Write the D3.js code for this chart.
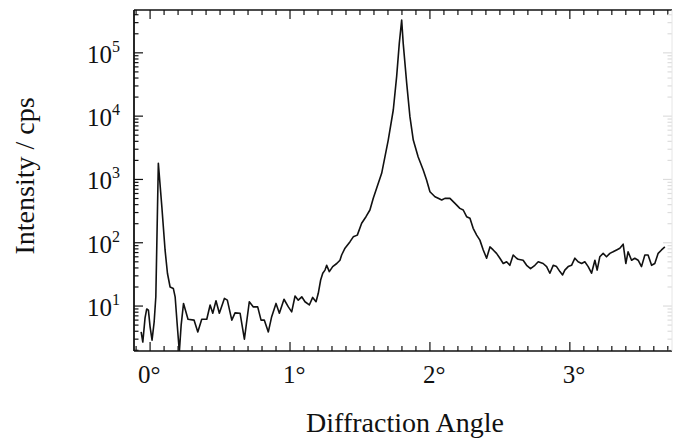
<!DOCTYPE html>
<html>
<head>
<meta charset="utf-8">
<script src="https://cdn.jsdelivr.net/npm/d3@7"></script>
<style>
  body { margin: 0; background: #fff; }
  text { font-family: "Liberation Serif", "DejaVu Serif", serif; fill: #111; }
</style>
</head>
<body>
<div id="chart"></div>
<script>
// diffraction angle in degrees
const angle = [
  -0.064, -0.052, -0.036, -0.024, -0.012, 0.000, 0.014, 0.029, 0.041, 0.059,
  0.084, 0.107, 0.124, 0.143, 0.166, 0.179, 0.195, 0.209, 0.222, 0.239,
  0.271, 0.314, 0.341, 0.369, 0.405, 0.429, 0.448, 0.471, 0.495, 0.531,
  0.552, 0.584, 0.607, 0.643, 0.674, 0.709, 0.738, 0.769, 0.793, 0.816,
  0.845, 0.869, 0.900, 0.924, 0.957, 0.988, 1.012, 1.036, 1.059, 1.084,
  1.107, 1.138, 1.162, 1.186, 1.202, 1.219, 1.234, 1.250, 1.262, 1.281,
  1.305, 1.334, 1.357, 1.369, 1.393, 1.429, 1.452, 1.481, 1.512, 1.543,
  1.571, 1.595, 1.619, 1.655, 1.702, 1.738, 1.762, 1.781, 1.798, 1.809,
  1.834, 1.857, 1.881, 1.916, 1.952, 1.976, 2.000, 2.036, 2.059, 2.084,
  2.107, 2.143, 2.179, 2.214, 2.238, 2.262, 2.286, 2.309, 2.334, 2.357,
  2.381, 2.405, 2.429, 2.452, 2.476, 2.500, 2.524, 2.548, 2.571, 2.595,
  2.619, 2.631, 2.666, 2.691, 2.719, 2.750, 2.774, 2.809, 2.834, 2.857,
  2.881, 2.905, 2.929, 2.948, 2.964, 2.988, 3.012, 3.036, 3.059, 3.084,
  3.107, 3.131, 3.155, 3.179, 3.195, 3.214, 3.238, 3.262, 3.286, 3.309,
  3.334, 3.357, 3.381, 3.400, 3.416, 3.441, 3.464, 3.488, 3.512, 3.536,
  3.559, 3.584, 3.607, 3.631, 3.655, 3.679
];
// intensity in cps
const intensity = [
  3.9, 2.7, 6.5, 9.0, 8.6, 4.7, 2.9, 5.6, 14, 1800,
  370, 77, 33, 20, 19, 14, 4.7, 1.9, 5.0, 11,
  6.2, 6.0, 3.9, 6.2, 6.2, 10.4, 7.7, 12.1, 7.7, 13.2,
  12.4, 6.0, 7.8, 7.7, 3.0, 11.7, 9.7, 9.7, 6.0, 6.0,
  3.9, 6.8, 11, 7.7, 12.8, 9.7, 8.1, 14.4, 12.4, 14,
  11.7, 10.4, 13.7, 11.7, 15.9, 25.8, 32.9, 37, 44, 35,
  42, 47, 53, 64, 82, 104, 124, 132, 203, 258,
  329, 503, 723, 1250, 4190, 12500, 42000, 141000, 330000, 141000,
  33000, 9800, 4190, 2260, 1410, 979, 640, 533, 503, 473,
  503, 503, 419, 349, 329, 258, 243, 169, 132, 110,
  77, 57, 86, 77, 68, 57, 47, 50, 44, 64,
  57, 55, 53, 44, 39, 44, 50, 47, 42, 33,
  44, 42, 35, 31, 37, 42, 44, 57, 50, 47,
  50, 42, 33, 53, 37, 60, 68, 60, 68, 72,
  77, 82, 95, 47, 72, 53, 57, 53, 42, 64,
  64, 44, 47, 68, 77, 86
];
const xTicks = [0, 1, 2, 3];
const yTicks = [1e1, 1e2, 1e3, 1e4, 1e5];

class DiffractionPlot {
  constructor(_data, _config) {
    this.config = {
      parentElement: "#chart",
      containerWidth: 675,
      containerHeight: 443,
      margin: { top: 10, right: 3, bottom: 92, left: 134 },
    };
    this.data = _data;
    this.initVis();
  }
  initVis() {
    let vis = this;
    vis.width = vis.config.containerWidth - vis.config.margin.left - vis.config.margin.right;
    vis.height = vis.config.containerHeight - vis.config.margin.top - vis.config.margin.bottom;

    vis.root = d3.select(vis.config.parentElement)
      .append("svg")
      .attr("width", vis.config.containerWidth)
      .attr("height", vis.config.containerHeight);
    vis.svg = vis.root.append("g")
      .attr("transform", `translate(${vis.config.margin.left},${vis.config.margin.top})`);

    vis.x = d3.scaleLinear().domain([-0.115, 3.73]).range([0, vis.width]);
    vis.y = d3.scaleLog().domain([1.95, 4.75e5]).range([vis.height, 0]);

    vis.updateVis();
  }
  updateVis() {
    let vis = this;
    const x = vis.x, y = vis.y;

    vis.svg.append("clipPath").attr("id", "clip")
      .append("rect").attr("width", vis.width).attr("height", vis.height);

    // minor ticks every 0.1 deg, major at integers
    const xMinor = d3.range(-1, 38).map((i) => i / 10).filter((v) => v >= -0.115 && v <= 3.73);
    const yMinor = [];
    for (let e = 0; e <= 5; e++) {
      for (let m = 1; m <= 9; m++) {
        const v = m * Math.pow(10, e);
        if (v >= 1.95 && v <= 4.75e5) yMinor.push(v);
      }
    }

    const ticks = vis.svg.append("g").attr("stroke", "#111").attr("stroke-width", 1.2);
    xMinor.forEach((v) => {
      const major = Math.abs(v - Math.round(v)) < 1e-6;
      const len = major ? 9 : 5;
      ticks.append("line").attr("x1", x(v)).attr("x2", x(v))
        .attr("y1", vis.height).attr("y2", vis.height - len);
      ticks.append("line").attr("x1", x(v)).attr("x2", x(v))
        .attr("y1", 0).attr("y2", len);
    });
    yMinor.forEach((v) => {
      const major = yTicks.includes(v);
      const len = major ? 9 : 4.5;
      ticks.append("line").attr("x1", 0).attr("x2", len)
        .attr("y1", y(v)).attr("y2", y(v));
      ticks.append("line").attr("x1", vis.width).attr("x2", vis.width - len)
        .attr("y1", y(v)).attr("y2", y(v))
        .attr("stroke", "#ddd");
    });

    // frame
    vis.svg.append("line").attr("x1", 0).attr("x2", vis.width).attr("y1", 0).attr("y2", 0)
      .attr("stroke", "#111").attr("stroke-width", 1.6);
    vis.svg.append("line").attr("x1", 0).attr("x2", vis.width).attr("y1", vis.height).attr("y2", vis.height)
      .attr("stroke", "#111").attr("stroke-width", 1.6);
    vis.svg.append("line").attr("x1", 0).attr("x2", 0).attr("y1", 0).attr("y2", vis.height)
      .attr("stroke", "#111").attr("stroke-width", 1.8);
    vis.svg.append("line").attr("x1", vis.width).attr("x2", vis.width).attr("y1", 0).attr("y2", vis.height)
      .attr("stroke", "#e6e6e6").attr("stroke-width", 1);

    // the scan itself
    const line = d3.line()
      .x((d) => x(d.angle))
      .y((d) => y(d.intensity));
    vis.svg.append("path")
      .datum(vis.data)
      .attr("clip-path", "url(#clip)")
      .attr("d", line)
      .attr("fill", "none")
      .attr("stroke", "#111")
      .attr("stroke-width", 1.6)
      .attr("stroke-linejoin", "round");

    // x tick labels
    xTicks.forEach((v) => {
      vis.svg.append("text")
        .attr("x", x(v) - (v === 0 ? 12 : 7))
        .attr("y", vis.height + 32)
        .style("font-size", "25px")
        .text(v + "°");
    });

    // y tick labels, 10 with superscript exponent
    yTicks.forEach((v) => {
      const t = vis.svg.append("text")
        .attr("x", -14)
        .attr("y", y(v) + 10)
        .attr("text-anchor", "end")
        .style("font-size", "25px");
      t.append("tspan").text("10");
      t.append("tspan").attr("dy", -11).style("font-size", "16px")
        .text(Math.round(Math.log10(v)));
    });

    // axis titles
    vis.root.append("text")
      .attr("x", 405)
      .attr("y", 432)
      .attr("text-anchor", "middle")
      .style("font-size", "28px")
      .text("Diffraction Angle");
    vis.root.append("text")
      .attr("transform", "translate(34,176) rotate(-90)")
      .attr("text-anchor", "middle")
      .style("font-size", "28px")
      .text("Intensity / cps");
  }
}

const scan = angle.map((a, i) => ({ angle: a, intensity: intensity[i] }));
new DiffractionPlot(scan);
</script>
</body>
</html>
